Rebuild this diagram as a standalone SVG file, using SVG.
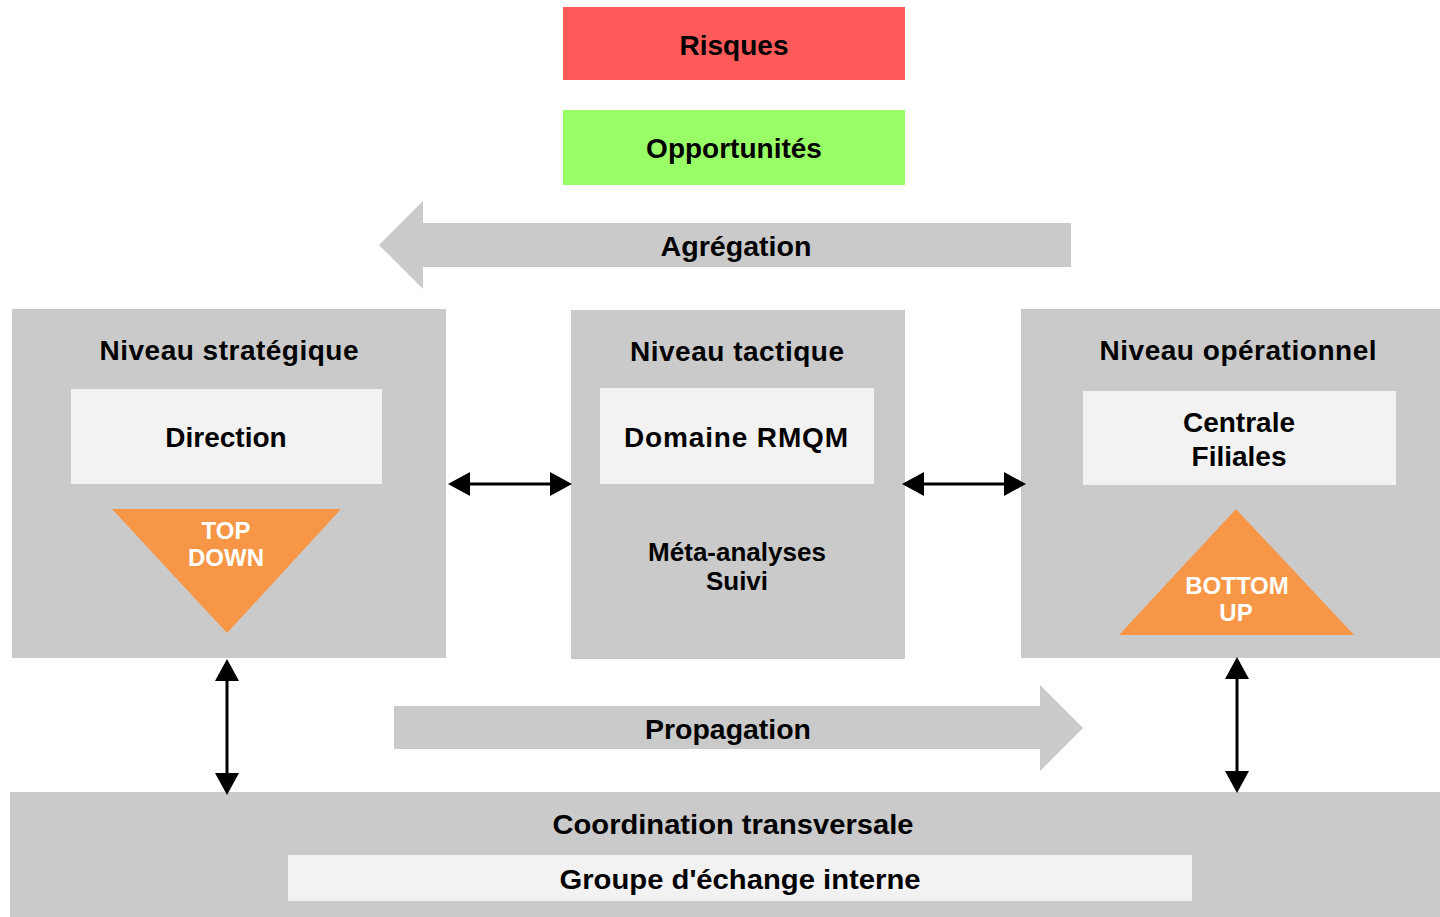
<svg xmlns="http://www.w3.org/2000/svg" width="1440" height="917" viewBox="0 0 1440 917">
<style>
.t{font-family:"Liberation Sans",Arial,sans-serif;font-weight:bold;fill:#000;text-anchor:middle}
.w{font-family:"Liberation Sans",Arial,sans-serif;font-weight:bold;fill:#fff;text-anchor:middle;font-size:24px}
.gray{fill:#cacaca}
.light{fill:#f2f2f2}
.orange{fill:#f79646}
.conn{stroke:#000;stroke-width:3;fill:none;marker-start:url(#ah);marker-end:url(#ah)}
</style>
<defs>
<marker id="ah" viewBox="0 0 22 24" markerWidth="22" markerHeight="24" refX="1" refY="12" markerUnits="userSpaceOnUse" orient="auto-start-reverse">
<path d="M0,0 L22,12 L0,24 z" fill="#000"/>
</marker>
</defs>
<rect width="1440" height="917" fill="#fff"/>
<g id="risques">
<rect x="563" y="7" width="342" height="73" fill="#ff5a5a"/>
<text class="t" x="734" y="55" font-size="28">Risques</text>
</g>
<g id="opportunites">
<rect x="563" y="110" width="342" height="75" fill="#99ff66"/>
<text class="t" x="734" y="158" font-size="28">Opportunités</text>
</g>
<g id="agregation">
<path class="gray" d="M1071,223 L423,223 L423,201 L379,245 L423,289 L423,267 L1071,267 z"/>
<text class="t" x="736" y="256" font-size="28" textLength="151" lengthAdjust="spacingAndGlyphs">Agrégation</text>
</g>
<g id="strategique">
<rect class="gray" x="12" y="309" width="434" height="349"/>
<text class="t" x="229" y="360" font-size="28" textLength="259" lengthAdjust="spacing">Niveau stratégique</text>
<rect class="light" x="71" y="389" width="311" height="95"/>
<text class="t" x="226" y="447" font-size="28">Direction</text>
<path class="orange" d="M112,509 L341,509 L227,633 z"/>
<text class="w" x="226" y="539">TOP</text>
<text class="w" x="226" y="566">DOWN</text>
</g>
<g id="tactique">
<rect class="gray" x="571" y="310" width="334" height="349"/>
<text class="t" x="737" y="361" font-size="28" textLength="214" lengthAdjust="spacing">Niveau tactique</text>
<rect class="light" x="600" y="388" width="274" height="96"/>
<text class="t" x="736" y="447" font-size="28" textLength="224" lengthAdjust="spacing">Domaine RMQM</text>
<text class="t" x="737" y="561" font-size="26">Méta-analyses</text>
<text class="t" x="737" y="590" font-size="26">Suivi</text>
</g>
<g id="operationnel">
<rect class="gray" x="1021" y="309" width="419" height="349"/>
<text class="t" x="1238" y="360" font-size="28" textLength="277" lengthAdjust="spacing">Niveau opérationnel</text>
<rect class="light" x="1083" y="391" width="313" height="94"/>
<text class="t" x="1239" y="432" font-size="28">Centrale</text>
<text class="t" x="1239" y="466" font-size="28">Filiales</text>
<path class="orange" d="M1236,509 L1354,635 L1119,635 z"/>
<text class="w" x="1237" y="594">BOTTOM</text>
<text class="w" x="1236" y="621">UP</text>
</g>
<g id="propagation">
<path class="gray" d="M394,706 L1040,706 L1040,685 L1083,728 L1040,771 L1040,749 L394,749 z"/>
<text class="t" x="728" y="739" font-size="28" textLength="166" lengthAdjust="spacingAndGlyphs">Propagation</text>
</g>
<g id="coordination">
<rect class="gray" x="10" y="792" width="1430" height="125"/>
<text class="t" x="733" y="834" font-size="28" textLength="361" lengthAdjust="spacingAndGlyphs">Coordination transversale</text>
<rect class="light" x="288" y="855" width="904" height="46"/>
<text class="t" x="740" y="889" font-size="28" textLength="361" lengthAdjust="spacingAndGlyphs">Groupe d'échange interne</text>
</g>
<g id="connectors">
<line class="conn" x1="469" y1="484" x2="551" y2="484"/>
<line class="conn" x1="923" y1="484" x2="1005" y2="484"/>
<line class="conn" x1="227" y1="680" x2="227" y2="774"/>
<line class="conn" x1="1237" y1="678" x2="1237" y2="772"/>
</g>
</svg>
